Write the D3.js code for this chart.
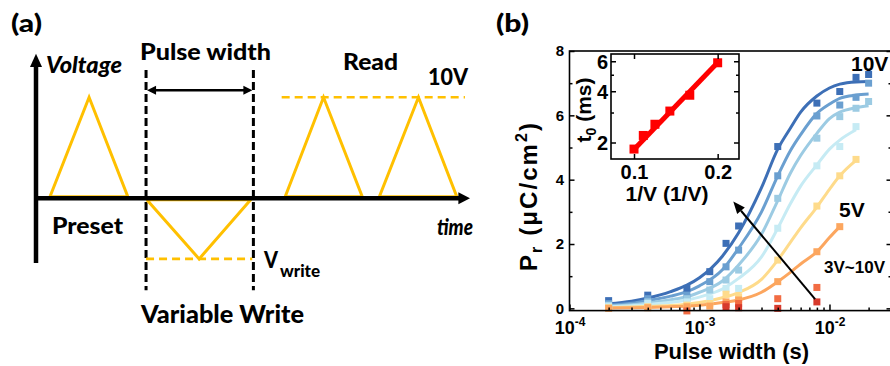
<!DOCTYPE html>
<html><head><meta charset="utf-8">
<script src="https://cdn.jsdelivr.net/npm/d3@7"></script>
<style>
body{margin:0;background:#fff}
svg{display:block}
text{font-family:Arial,"Liberation Sans",sans-serif;font-weight:bold;fill:#000}
.sch{font-family:Lato,"Open Sans",sans-serif;font-weight:900}
</style>
</head><body>
<svg id="c" width="890" height="366"></svg>
<script>
// ================= DATA =================
// Panel (b): pulse widths (s)
const pulseWidths = [2e-4, 4e-4, 8e-4, 1.2e-3, 1.6e-3, 2e-3, 4e-3, 8e-3, 1.2e-2, 1.6e-2, 2e-2];
const voltageLabels = ["10V", "9V", "8V", "7V", "6V", "5V", "4V", "3V"];
const seriesColors = ["#3d6fb6", "#6a9fd0", "#9ccbe3", "#c6ebf4", "#fedb8b", "#fca65f", "#f26c43", "#d73a2c"];
// measured Pr (uC/cm2)
const pr10V = [0.24, 0.41, 0.62, 1.14, 2.02, 2.56, 5.03, 6.38, 6.74, 7.18, 7.27];
const pr9V  = [0.15, 0.30, 0.41, 0.83, 1.29, 1.81, 4.12, 5.98, 6.32, 6.56, 7.00];
const pr8V  = [0.10, 0.20, 0.30, 0.57, 0.88, 1.19, 3.42, 5.29, 5.96, 6.22, 6.43];
const pr7V  = [0.07, 0.15, 0.20, 0.30, 0.62, 0.62, 2.49, 4.43, 5.03, 5.65];
const pr6V  = [0.02, 0.05, 0.10, 0.15, 0.44, 0.36, 1.50, 3.18, 4.12, 4.63];
const pr5V  = [0.00, 0.02, 0.05, 0.07, 0.20, 0.26, 0.83, 1.76, 2.54];
const pw4V  = [8e-4, 1.6e-3, 2e-3, 4e-3, 8e-3];
const pr4V  = [-0.08, 0.12, 0.15, 0.30, 0.65];
const pw3V  = [1.6e-3, 2e-3, 4e-3, 8e-3];
const pr3V  = [0.05, 0.02, 0.00, 0.20];
// fitted curves
const fitPulse = [2e-4, 3e-4, 4e-4, 6e-4, 8e-4, 1e-3, 1.5e-3, 2e-3, 3e-3, 4e-3, 5e-3, 6e-3, 8e-3, 1e-2, 1.2e-2, 1.6e-2, 2e-2];
const fit10V = [0.14, 0.22, 0.32, 0.52, 0.72, 0.95, 1.62, 2.35, 3.75, 4.95, 5.60, 6.10, 6.60, 6.85, 6.97, 7.04, 7.05];
const fit9V  = [0.10, 0.16, 0.24, 0.38, 0.52, 0.70, 1.20, 1.87, 3.00, 4.12, 4.90, 5.40, 6.06, 6.35, 6.53, 6.63, 6.66];
const fit8V  = [0.07, 0.11, 0.17, 0.27, 0.36, 0.50, 0.85, 1.35, 2.30, 3.35, 4.20, 4.75, 5.44, 5.90, 6.10, 6.24, 6.30];
const fit7V  = [0.05, 0.08, 0.12, 0.19, 0.26, 0.35, 0.60, 0.93, 1.60, 2.49, 3.25, 3.80, 4.46, 4.95, 5.23, 5.55];
const fit6V  = [0.02, 0.04, 0.06, 0.09, 0.13, 0.18, 0.33, 0.49, 0.90, 1.50, 2.05, 2.50, 3.15, 3.70, 4.12, 4.60];
const fit5V  = [0.01, 0.02, 0.03, 0.05, 0.07, 0.10, 0.18, 0.26, 0.50, 0.83, 1.12, 1.38, 1.76, 2.20, 2.54];
const yTicks = [0, 2, 4, 6, 8];
const yMinor = [1, 3, 5, 7];
const xTicks = [1e-4, 1e-3, 1e-2];
const xMinor = [2e-4,3e-4,4e-4,5e-4,6e-4,7e-4,8e-4,9e-4,2e-3,3e-3,4e-3,5e-3,6e-3,7e-3,8e-3,9e-3,2e-2];
// arrow annotation (pulse width, Pr)
const arrowTail = [7.75e-3, 0.29], arrowHead = [1.82e-3, 3.32];

// Inset: t0 vs 1/V
const invV = [1/10, 1/9, 1/8, 1/7, 1/6, 1/5];
const t0ms = [1.83, 2.20, 2.56, 3.06, 3.79, 5.88];
const t0FitX = [0.1, 0.2];
const t0FitY = [1.82, 5.90];
const insetXTicks = [0.1, 0.2];
const insetYTicks = [2, 4, 6];
const insetYMinor = [3, 5];

// Panel (a) schematic waveform (time units, volts)
const presetT = [0.36, 1.37, 2.37], presetV = [0.15, 10, 0.15];
const writeT  = [2.86, 4.21, 5.54], writeV  = [-0.15, -6, -0.15];
const read1T  = [6.43, 7.42, 8.42], read2T  = [8.86, 9.87, 10.86], readV = [0.15, 10, 0.15];
const windowT = [2.84, 5.61], windowV = [12.7, -9.1];
const readLevelT = [6.34, 11.07], readLevelV = 10;
const writeLevelT = [2.84, 5.58], writeLevelV = -6;
const pulseArrowV = 10.7;

// ================= DRAW =================
const svg = d3.select("#c");

// ---------- panel (a) ----------
const ta = d3.scaleLinear().domain([0, 11.2]).range([36, 470]);
const va = d3.scaleLinear().domain([0, 10]).range([198.3, 97.3]);
const gold = "#FFC000";
const la = d3.line().x(d => ta(d[0])).y(d => va(d[1]));

windowT.forEach(t => {
  svg.append("line").attr("x1", ta(t)).attr("x2", ta(t)).attr("y1", va(windowV[0])).attr("y2", va(windowV[1]))
    .attr("stroke", "#000").attr("stroke-width", 3).attr("stroke-dasharray", "8,4");
});
svg.append("line").attr("x1", ta(readLevelT[0])).attr("x2", ta(readLevelT[1])).attr("y1", va(readLevelV)).attr("y2", va(readLevelV))
  .attr("stroke", gold).attr("stroke-width", 2.6).attr("stroke-dasharray", "8,5");
svg.append("line").attr("x1", ta(writeLevelT[0])).attr("x2", ta(writeLevelT[1])).attr("y1", va(writeLevelV)).attr("y2", va(writeLevelV))
  .attr("stroke", gold).attr("stroke-width", 2.6).attr("stroke-dasharray", "8,5");
[[presetT, presetV], [writeT, writeV], [read1T, readV], [read2T, readV]].forEach(([T, V]) => {
  const pts = T.map((t, i) => [t, V[i]]);
  pts.push(pts[0]);
  svg.append("path").attr("d", la(pts)).attr("fill", "none").attr("stroke", gold).attr("stroke-width", 3);
});
svg.append("line").attr("x1", ta(0)).attr("x2", ta(0)).attr("y1", va(-6.4)).attr("y2", va(13.2))
  .attr("stroke", "#000").attr("stroke-width", 4.5);
svg.append("path").attr("d", `M${ta(0)-6},${va(13.0)} L${ta(0)},${va(14.3)} L${ta(0)+6},${va(13.0)} Z`).attr("fill", "#000");
svg.append("line").attr("x1", ta(0) - 2).attr("x2", ta(10.95)).attr("y1", va(0)).attr("y2", va(0))
  .attr("stroke", "#000").attr("stroke-width", 4.5);
svg.append("path").attr("d", `M${ta(10.9)},${va(0)-6} L${ta(11.2)},${va(0)} L${ta(10.9)},${va(0)+6} Z`).attr("fill", "#000");
{
  const yA = va(pulseArrowV), x1 = ta(windowT[0]) + 1, x2 = ta(windowT[1]) - 1;
  svg.append("line").attr("x1", x1 + 3).attr("x2", x2 - 3).attr("y1", yA).attr("y2", yA).attr("stroke", "#000").attr("stroke-width", 2.5);
  svg.append("path").attr("d", `M${x1},${yA} L${x1+9},${yA-4.5} L${x1+9},${yA+4.5} Z`).attr("fill", "#000");
  svg.append("path").attr("d", `M${x2},${yA} L${x2-9},${yA-4.5} L${x2-9},${yA+4.5} Z`).attr("fill", "#000");
}
function stext(str, xx, yy, size, len, italic) {
  const t = svg.append("text").attr("class", "sch").attr("x", xx).attr("y", yy).attr("font-size", size).text(str);
  if (len) t.attr("textLength", len).attr("lengthAdjust", "spacingAndGlyphs");
  if (italic) t.attr("font-style", "italic");
  return t;
}
stext("(a)", 11, 32, 25, 31);
stext("(b)", 496, 32, 25, 33);
stext("Pulse width", 140, 60, 23, 131);
stext("Read", 343, 70, 23, 55);
stext("10V", 428, 85, 23, 40);
stext("Voltage", 46, 73, 22, 76, true);
stext("Preset", 52, 234, 23, 71);
stext("time", 437, 235, 22, 36, true);
stext("V", 264, 268, 23, 14);
stext("write", 280, 277, 17, 40);
stext("Variable Write", 141, 323, 24, 163);

// ---------- panel (b) ----------
const x = d3.scaleLog().domain([1e-4, 3e-2]).range([569.5, 891.5]);
const y = d3.scaleLinear().domain([-0.07, 8]).range([310.6, 51]);
const X0 = 569.5, X1 = 891.5, Y0 = 310.6, Y1 = 51;

const fits = [fit10V, fit9V, fit8V, fit7V, fit6V, fit5V];
const prs = [pr10V, pr9V, pr8V, pr7V, pr6V, pr5V];
const line = d3.line().x(d => x(d[0])).y(d => y(d[1])).curve(d3.curveMonotoneX);
const plot = svg.append("g");
fits.forEach((f, i) => {
  plot.append("path").datum(f.map((v, j) => [fitPulse[j], v]))
    .attr("d", line).attr("fill", "none").attr("stroke", seriesColors[i]).attr("stroke-width", 3);
});
const ms = 7;
function squares(xs, ys, color) {
  plot.append("g").selectAll("rect").data(ys.map((v, j) => [xs[j], v])).join("rect")
    .attr("x", d => x(d[0]) - ms / 2).attr("y", d => y(d[1]) - ms / 2)
    .attr("width", ms).attr("height", ms).attr("fill", color);
}
prs.forEach((p, i) => squares(pulseWidths, p, seriesColors[i]));
squares(pw4V, pr4V, seriesColors[6]);
squares(pw3V, pr3V, seriesColors[7]);

svg.append("rect").attr("x", X0).attr("y", Y1).attr("width", X1 - X0).attr("height", Y0 - Y1)
  .attr("fill", "none").attr("stroke", "#000").attr("stroke-width", 1.6);

function styleAxis(g) {
  g.select(".domain").remove();
  g.selectAll(".tick line").attr("stroke", "#000").attr("stroke-width", 1.5);
}
const FONT = "Arial, Liberation Sans, sans-serif";
const gy = svg.append("g").attr("transform", `translate(${X0},0)`)
  .call(d3.axisLeft(y).tickValues(yTicks).tickSize(-5).tickPadding(5.5).tickFormat(d3.format("d")));
styleAxis(gy);
gy.selectAll(".tick text").attr("font-size", 15).attr("font-family", FONT).attr("font-weight", "bold").attr("fill", "#000");
svg.append("g").attr("transform", `translate(${X0},0)`)
  .call(d3.axisLeft(y).tickValues(yMinor).tickSize(-3).tickFormat("")).call(styleAxis);
svg.append("g").attr("transform", `translate(${X1},0)`)
  .call(d3.axisRight(y).tickValues(yTicks).tickSize(-5).tickFormat("")).call(styleAxis);
svg.append("g").attr("transform", `translate(${X1},0)`)
  .call(d3.axisRight(y).tickValues(yMinor).tickSize(-3).tickFormat("")).call(styleAxis);
const gx = svg.append("g").attr("transform", `translate(0,${Y0})`)
  .call(d3.axisBottom(x).tickValues(xTicks).tickSize(-6).tickFormat(d => d));
styleAxis(gx);
gx.selectAll(".tick text").each(function (d) {
  const t = d3.select(this);
  t.text(null).attr("y", 23).attr("dy", null).attr("font-family", FONT)
    .attr("font-weight", "bold").attr("fill", "#000").attr("font-size", 18);
  t.append("tspan").text("10");
  t.append("tspan").attr("font-size", 12).attr("dy", -8).text(String(Math.round(Math.log10(d))));
});
svg.append("g").attr("transform", `translate(0,${Y0})`)
  .call(d3.axisBottom(x).tickValues(xMinor).tickSize(-3).tickFormat("")).call(styleAxis);

svg.append("text").attr("x", 731.5).attr("y", 359).attr("text-anchor", "middle").attr("font-size", 22).text("Pulse width (s)");
{
  const t = svg.append("text").attr("transform", "translate(537,197) rotate(-90)").attr("text-anchor", "middle")
    .attr("font-size", 24).attr("textLength", 148).attr("lengthAdjust", "spacing");
  t.append("tspan").text("P");
  t.append("tspan").attr("font-size", 16).attr("dy", 5).text("r");
  t.append("tspan").attr("dy", -5).text(" (\u03BCC/cm");
  t.append("tspan").attr("font-size", 16).attr("dy", -10).text("2");
  t.append("tspan").attr("dy", 10).text(")");
}
svg.append("text").attr("x", 851).attr("y", 71).attr("font-size", 21).text(voltageLabels[0]);
svg.append("text").attr("x", 839).attr("y", 217).attr("font-size", 21).text(voltageLabels[5]);
svg.append("text").attr("x", 824).attr("y", 273).attr("font-size", 17).text(voltageLabels[7] + "~" + voltageLabels[0]);
{
  const xt = x(arrowTail[0]), yt = y(arrowTail[1]), xh = x(arrowHead[0]), yh = y(arrowHead[1]);
  const ang = Math.atan2(yh - yt, xh - xt), L = 12, W = 5;
  const bx = xh - L * Math.cos(ang), by = yh - L * Math.sin(ang);
  svg.append("line").attr("x1", xt).attr("y1", yt).attr("x2", bx).attr("y2", by).attr("stroke", "#000").attr("stroke-width", 2);
  svg.append("path").attr("d", `M${xh},${yh} L${bx - W*Math.sin(ang)},${by + W*Math.cos(ang)} L${bx + W*Math.sin(ang)},${by - W*Math.cos(ang)} Z`).attr("fill", "#000");
}

// ---------- inset ----------
const xi = d3.scaleLinear().domain([0.0725, 0.2255]).range([611, 739]);
const yi = d3.scaleLog().domain([1.6, 6.62]).range([159, 54]);
svg.append("rect").attr("x", 611).attr("y", 54).attr("width", 128).attr("height", 105)
  .attr("fill", "#fff").attr("stroke", "#000").attr("stroke-width", 1.6);
const li = d3.line().x(d => xi(d[0])).y(d => yi(d[1]));
svg.append("path").datum(t0FitX.map((v, i) => [v, t0FitY[i]])).attr("d", li)
  .attr("stroke", "#ff0000").attr("stroke-width", 5).attr("fill", "none");
svg.append("g").selectAll("rect").data(invV.map((v, i) => [v, t0ms[i]])).join("rect")
  .attr("x", d => xi(d[0]) - 4.5).attr("y", d => yi(d[1]) - 4.5).attr("width", 9).attr("height", 9).attr("fill", "#ff0000");
const giy = svg.append("g").attr("transform", "translate(611,0)")
  .call(d3.axisLeft(yi).tickValues(insetYTicks).tickSize(-5).tickPadding(3).tickFormat(d3.format("d")));
styleAxis(giy);
giy.selectAll(".tick text").attr("font-size", 20).attr("font-family", FONT).attr("font-weight", "bold").attr("fill", "#000").attr("dy", "0.36em");
svg.append("g").attr("transform", "translate(611,0)").call(d3.axisLeft(yi).tickValues(insetYMinor).tickSize(-3).tickFormat("")).call(styleAxis);
svg.append("g").attr("transform", "translate(739,0)").call(d3.axisRight(yi).tickValues(insetYTicks).tickSize(-5).tickFormat("")).call(styleAxis);
svg.append("g").attr("transform", "translate(739,0)").call(d3.axisRight(yi).tickValues(insetYMinor).tickSize(-3).tickFormat("")).call(styleAxis);
const gix = svg.append("g").attr("transform", "translate(0,159)")
  .call(d3.axisBottom(xi).tickValues(insetXTicks).tickSize(-5).tickFormat(d3.format(".1f")));
styleAxis(gix);
gix.selectAll(".tick text").attr("y", 20).attr("dy", null).attr("font-size", 20).attr("font-family", FONT).attr("font-weight", "bold").attr("fill", "#000");
svg.append("g").attr("transform", "translate(0,54)").call(d3.axisTop(xi).tickValues(insetXTicks).tickSize(-5).tickFormat("")).call(styleAxis);
svg.append("text").attr("x", 667).attr("y", 201).attr("text-anchor", "middle").attr("font-size", 21).text("1/V (1/V)");
{
  const t = svg.append("text").attr("transform", "translate(591,110) rotate(-90)").attr("text-anchor", "middle").attr("font-size", 21);
  t.append("tspan").text("t");
  t.append("tspan").attr("font-size", 14).attr("dy", 5).text("0");
  t.append("tspan").attr("dy", -5).text(" (ms)");
}
</script>
</body></html>
